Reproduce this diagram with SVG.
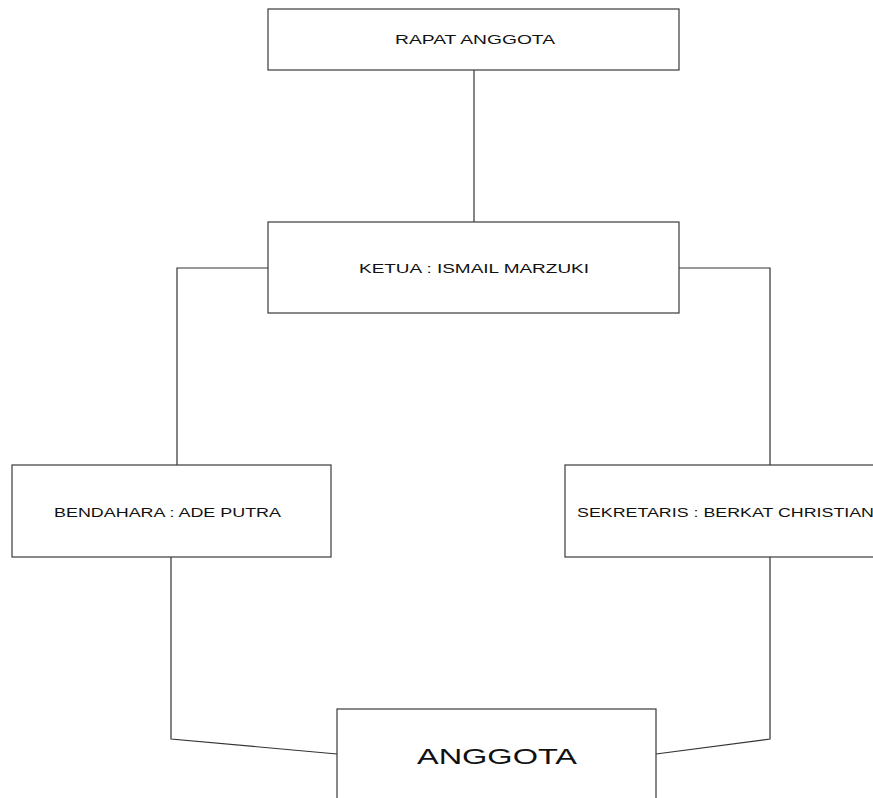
<svg xmlns="http://www.w3.org/2000/svg" width="873" height="798" viewBox="0 0 873 798">
<style>
.box{fill:#ffffff;stroke:#3a3a3a;stroke-width:1.2}
.lbl{font-family:"Liberation Sans",Arial,sans-serif;font-size:12px;fill:#111}
.big{font-family:"Liberation Sans",Arial,sans-serif;font-size:22px;fill:#111}
.conn{fill:none;stroke:#333;stroke-width:1.2}
</style>
<rect width="873" height="798" fill="#ffffff"/>
<g id="connectors">
<line class="conn" x1="474" y1="70" x2="474" y2="222"/>
<polyline class="conn" points="268,268 177,268 177,465"/>
<polyline class="conn" points="679,268 770,268 770,465"/>
<polyline class="conn" points="171,557 171,739 337,754"/>
<polyline class="conn" points="770,557 770,739 656,754"/>
</g>
<g id="rapat-anggota">
<rect class="box" x="268" y="9" width="411" height="61"/>
<text class="lbl" x="475" y="44" text-anchor="middle" textLength="160" lengthAdjust="spacingAndGlyphs">RAPAT ANGGOTA</text>
</g>
<g id="ketua">
<rect class="box" x="268" y="222" width="411" height="91"/>
<text class="lbl" x="474" y="273" text-anchor="middle" textLength="230" lengthAdjust="spacingAndGlyphs">KETUA : ISMAIL MARZUKI</text>
</g>
<g id="bendahara">
<rect class="box" x="12" y="465" width="319" height="92"/>
<text class="lbl" x="167.5" y="517" text-anchor="middle" textLength="227" lengthAdjust="spacingAndGlyphs">BENDAHARA : ADE PUTRA</text>
</g>
<g id="sekretaris">
<rect class="box" x="565" y="465" width="319" height="92"/>
<text class="lbl" x="577" y="517" textLength="297" lengthAdjust="spacingAndGlyphs">SEKRETARIS : BERKAT CHRISTIAN</text>
</g>
<g id="anggota">
<rect class="box" x="337" y="709" width="319" height="100"/>
<text class="big" x="497" y="764" text-anchor="middle" textLength="160" lengthAdjust="spacingAndGlyphs">ANGGOTA</text>
</g>
</svg>
